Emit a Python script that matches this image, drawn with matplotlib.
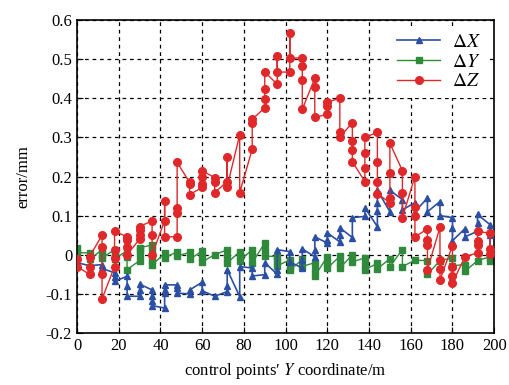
import numpy as np
import matplotlib.pyplot as plt

plt.rcParams['font.family'] = ['Liberation Serif', 'DejaVu Serif']
plt.rcParams['mathtext.fontset'] = 'stix'

# control point positions (m), several readings per position
pos = [0, 6, 12, 18, 24, 30, 36, 42, 48, 54, 60, 66, 72, 78, 84, 90, 96,
       102, 108, 114, 120, 126, 132, 138, 144, 150, 156, 162, 168, 174,
       180, 186, 192, 198]

dx = [[-0.02], [-0.028], [-0.025, -0.035], [-0.046, -0.058, -0.068],
      [-0.055, -0.08, -0.106], [-0.106, -0.09, -0.075],
      [-0.09, -0.105, -0.118, -0.13], [-0.136, -0.098, -0.09, -0.077],
      [-0.077, -0.086, -0.098], [-0.1, -0.09], [-0.07, -0.092], [-0.106],
      [-0.094, -0.08, -0.038], [-0.107, -0.03], [-0.034, -0.054],
      [-0.051, -0.02], [-0.05, -0.038, 0.013], [0.008, -0.018],
      [-0.034, -0.013, 0.015], [-0.005, 0.013, 0.046], [0.03, 0.038, 0.056],
      [0.033, 0.051, 0.069], [0.044, 0.095], [0.098, 0.12],
      [0.072, 0.111, 0.133, 0.165], [0.11, 0.141, 0.165], [0.141, 0.115],
      [0.133, 0.11], [0.145, 0.11], [0.136, 0.1], [0.095, 0.069, 0.036],
      [0.067, 0.046], [0.06, 0.082, 0.103], [0.077, 0.051, 0.012]]

dy = [[0.018, 0.005], [0.005, -0.012], [0.013, 0.0, -0.008],
      [0.013, 0.0, -0.01], [0.01, -0.005, -0.038], [-0.015, 0.0, 0.013, 0.018],
      [0.025, 0.012, -0.013, -0.026], [0.004, -0.008], [0.008, -0.003],
      [0.006, -0.012], [0.01, -0.006, -0.018], [0.0],
      [0.013, -0.005, -0.021], [0.008, -0.003, -0.015], [0.013, -0.003, -0.02],
      [0.03, 0.013, -0.003], [-0.005, -0.015, -0.028], [-0.013, -0.03, -0.04],
      [-0.012, -0.03], [-0.02, -0.04, -0.054], [-0.005, -0.02, -0.034],
      [-0.004, -0.02, -0.034], [0.0, -0.018], [-0.008, -0.026, -0.038],
      [-0.022, -0.036], [-0.01, -0.03], [0.013, -0.03], [-0.014],
      [-0.015, -0.05], [-0.015], [-0.008, -0.028], [-0.025, -0.042],
      [-0.015], [-0.005, -0.015]]

dz = [[-0.01, -0.03], [-0.05, -0.03, -0.005], [0.05, 0.02, -0.05, -0.113],
      [-0.03, -0.008, 0.013, 0.06], [0.046, 0.038, 0.02, 0.0],
      [0.04, 0.05, 0.064, 0.072], [0.087, 0.05, 0.0], [0.087, 0.138, 0.046],
      [0.046, 0.107, 0.12, 0.236], [0.185, 0.18, 0.154],
      [0.172, 0.18, 0.2, 0.215], [0.197, 0.187, 0.159],
      [0.187, 0.25, 0.174], [0.307, 0.159], [0.27, 0.336, 0.346],
      [0.376, 0.397, 0.423, 0.467], [0.436, 0.508, 0.467],
      [0.467, 0.567, 0.503], [0.503, 0.482, 0.446, 0.372],
      [0.451, 0.428, 0.351], [0.359, 0.38, 0.39], [0.4, 0.313, 0.3],
      [0.338, 0.292, 0.267, 0.238], [0.187, 0.223, 0.259, 0.3],
      [0.313, 0.238, 0.185, 0.156], [0.133, 0.146, 0.208, 0.285],
      [0.215, 0.159, 0.095], [0.2, 0.123, 0.1, 0.046],
      [0.066, 0.038, 0.026, -0.038], [0.07, -0.013, -0.036, -0.064],
      [0.023, -0.03, -0.054, -0.072], [-0.005], [0.005, 0.025, 0.035, 0.06],
      [0.055, 0.015, 0.003]]


def flat(groups):
    xs = [p for p, g in zip(pos, groups) for _ in g]
    ys = [v for g in groups for v in g]
    return xs, ys


fig = plt.figure(figsize=(5.1, 3.85), dpi=100)
ax = fig.add_axes([0.151, 0.135, 0.818, 0.813])

x, y = flat(dx)
ax.plot(x, y, color='#2b4fa3', marker='^', ms=4.5, lw=1.2, label=r'$\Delta X$', zorder=3)
x, y = flat(dy)
ax.plot(x, y, color='#2f8a3b', marker='s', ms=5, lw=1.0, label=r'$\Delta Y$', zorder=2)
x, y = flat(dz)
ax.plot(x, y, color='#e0282a', marker='o', ms=5.5, lw=1.0, label=r'$\Delta Z$', zorder=4)

ax.set_xlim(0, 200)
ax.set_ylim(-0.2, 0.6)
ax.set_xticks(np.arange(0, 201, 20))
ax.set_yticks(np.arange(-0.2, 0.61, 0.1))
ax.set_yticklabels(['-0.2', '-0.1', '0', '0.1', '0.2', '0.3', '0.4', '0.5', '0.6'])
ax.tick_params(direction='in', labelsize=12, length=4)
ax.grid(True, color='black', linestyle=(0, (3, 3)), lw=0.9)
for s in ax.spines.values():
    s.set_linewidth(1.2)

ax.set_xlabel("control points\u2032 $Y$ coordinate/m", fontsize=12, labelpad=5)
ax.set_ylabel('error/mm', fontsize=12, labelpad=10)

leg = ax.legend(loc='upper right', fontsize=14, frameon=True, fancybox=False,
                handlelength=2.2, handletextpad=0.6, borderaxespad=0.3,
                labelspacing=0.1)
leg.get_frame().set_edgecolor('none')
leg.get_frame().set_facecolor('white')
leg.get_frame().set_alpha(1)

plt.savefig('out.png', dpi=100)
